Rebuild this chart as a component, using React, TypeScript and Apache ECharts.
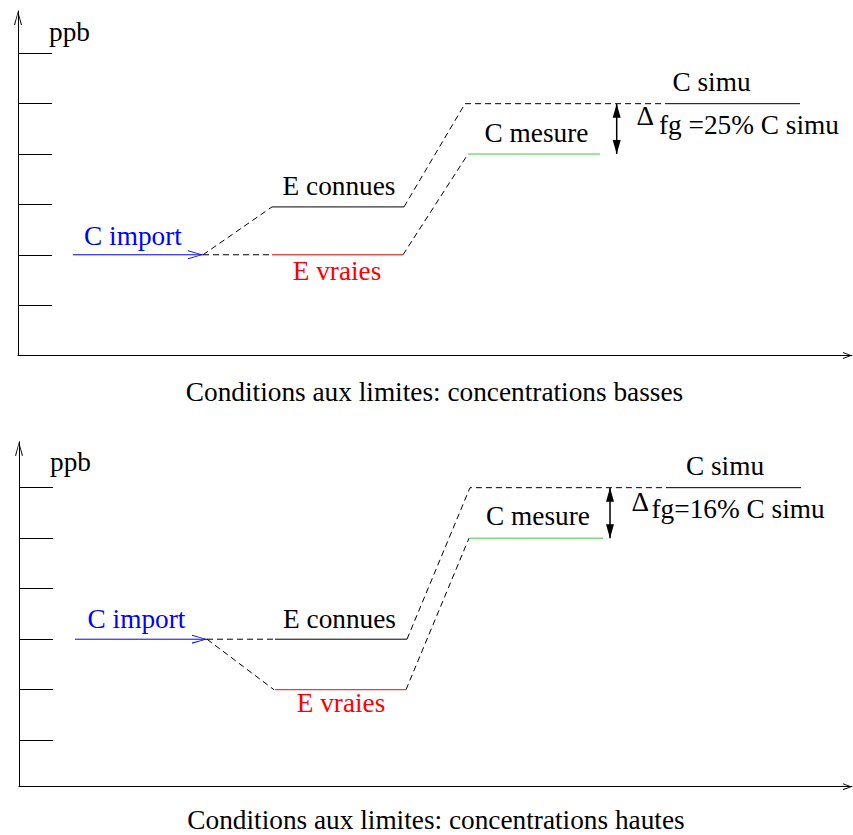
import React, { useEffect, useRef } from "react";
import * as echarts from "echarts";

type Pt = [number, number];

// ---------- Top panel: low boundary concentrations (x in px units from the y axis, y in ppb steps) ----------
const topCImport: Pt[] = [[55, 2], [185, 2]];
const topEConnues: Pt[] = [[254, 2.95], [386, 2.95]];
const topEVraies: Pt[] = [[254, 2], [385, 2]];
const topCMesure: Pt[] = [[450, 4], [582, 4]];
const topCSimu: Pt[] = [[650, 5], [782, 5]];
const topDashed: Pt[][] = [
  [[185, 2], [254, 2.95]],
  [[185, 2], [254, 2]],
  [[386, 2.95], [447, 5], [650, 5]],
  [[385, 2], [450, 4]],
];
const topDeltaX = 598.7;
const topTicks = [1, 2, 3, 4, 5, 6];

// ---------- Bottom panel: high boundary concentrations ----------
const botCImport: Pt[] = [[56, 2], [188, 2]];
const botEConnues: Pt[] = [[256, 2], [388, 2]];
const botEVraies: Pt[] = [[256, 1], [387, 1]];
const botCMesure: Pt[] = [[451, 4], [584, 4]];
const botCSimu: Pt[] = [[649, 5], [782, 5]];
const botDashed: Pt[][] = [
  [[188, 2], [256, 2]],
  [[188, 2], [255, 1]],
  [[388, 2], [451, 5], [649, 5]],
  [[387, 1], [450, 4]],
];
const botDeltaX = 591;
const botTicks = [0, 1, 2, 3, 4, 5];

// ---------- Texts ----------
const unitLabel = "ppb";
const lblImport = "C import";
const lblConnues = "E connues";
const lblVraies = "E vraies";
const lblMesure = "C mesure";
const lblSimu = "C simu";
const deltaSym = "\u0394";
const deltaTop = "fg =25% C simu";
const deltaBot = "fg=16% C simu";
const captionTop = "Conditions aux limites: concentrations basses";
const captionBot = "Conditions aux limites: concentrations hautes";

const FONT = "Liberation Serif";
const FS = 27.3;
const BLUE = "#0000ff";
const RED = "#ff0000";
const GREEN = "#3ccc3c";
const BLACK = "#000000";

const chevron = (w: number, h: number) => {
  const t = 1.1;
  return `path://M${w / 2},0 L${w},${h} L${w - t},${h} L${w / 2},${2.2} L${t},${h} L0,${h} Z`;
};

function solid(data: Pt[], color: string, g: number) {
  return {
    type: "line",
    xAxisIndex: g,
    yAxisIndex: g,
    data,
    symbol: "none",
    silent: true,
    lineStyle: { color, width: 1 },
    z: 3,
  };
}

function dashed(data: Pt[], g: number) {
  return {
    type: "line",
    xAxisIndex: g,
    yAxisIndex: g,
    data,
    symbol: "none",
    silent: true,
    lineStyle: { color: BLACK, width: 1, type: [6, 4] },
    z: 2,
  };
}

function importArrow(data: Pt[], g: number) {
  return {
    type: "line",
    xAxisIndex: g,
    yAxisIndex: g,
    silent: true,
    symbol: "none",
    lineStyle: { color: BLUE, width: 1 },
    itemStyle: { color: BLUE, borderWidth: 0 },
    data: data.map((p, i) =>
      i === data.length - 1
        ? {
            value: p,
            symbol: chevron(9, 15),
            symbolSize: [9, 15],
            symbolRotate: -90,
            symbolOffset: [-7.5, 0],
          }
        : { value: p, symbol: "none" }
    ),
    z: 3,
  };
}

function deltaArrow(x: number, yTop: number, yBot: number, g: number) {
  return {
    type: "line",
    xAxisIndex: g,
    yAxisIndex: g,
    silent: true,
    lineStyle: { color: BLACK, width: 1.5 },
    itemStyle: { color: BLACK, borderWidth: 0 },
    data: [
      { value: [x, yTop], symbol: "triangle", symbolSize: [8, 14], symbolOffset: [0, 7] },
      { value: [x, yBot], symbol: "triangle", symbolSize: [8, 14], symbolRotate: 180, symbolOffset: [0, -7] },
    ],
    z: 4,
  };
}

function text(t: string, x: number, baseline: number, align: string, color = BLACK, size = FS) {
  return {
    type: "text",
    x,
    y: baseline - 0.34 * size,
    silent: true,
    style: {
      text: t,
      fill: color,
      fontSize: size,
      fontFamily: FONT,
      align,
      verticalAlign: "middle",
      textAlign: align,
      textVerticalAlign: "middle",
    },
  };
}

function axes(ticks: number[], min: number, max: number, xMax: number) {
  const line = { color: BLACK, width: 1 };
  const xAxis = {
    type: "value",
    min: 0,
    max: xMax,
    axisLine: {
      show: true,
      onZero: false,
      lineStyle: line,
      symbol: ["none", chevron(7, 9)],
      symbolSize: [7, 9],
      symbolOffset: [0, -4.5],
    },
    axisTick: { show: false },
    axisLabel: { show: false },
    splitLine: { show: false },
  };
  const yAxis = {
    type: "value",
    min,
    max,
    axisLine: {
      show: true,
      onZero: false,
      lineStyle: line,
      symbol: ["none", chevron(8, 14)],
      symbolSize: [8, 14],
      symbolOffset: [0, -7],
    },
    axisTick: {
      show: true,
      inside: true,
      length: 34,
      customValues: ticks,
      lineStyle: line,
    },
    axisLabel: { show: false, customValues: ticks },
    splitLine: { show: false },
  };
  return { xAxis, yAxis };
}

export default function App() {
  const ref = useRef<HTMLDivElement>(null);

  useEffect(() => {
    if (!ref.current) return;
    document.body.style.margin = "0";
    const chart = echarts.init(ref.current, undefined, { renderer: "svg" });
    const a0 = axes(topTicks, 0, 6.84, 834);
    const a1 = axes(botTicks, -0.92, 5.91, 833);

    const series: any[] = [];
    topDashed.forEach((d) => series.push(dashed(d, 0)));
    series.push(importArrow(topCImport, 0));
    series.push(solid(topEConnues, BLACK, 0));
    series.push(solid(topEVraies, RED, 0));
    series.push(solid(topCMesure, GREEN, 0));
    series.push(solid(topCSimu, BLACK, 0));
    series.push(deltaArrow(topDeltaX, topCSimu[0][1], topCMesure[0][1], 0));

    botDashed.forEach((d) => series.push(dashed(d, 1)));
    series.push(importArrow(botCImport, 1));
    series.push(solid(botEConnues, BLACK, 1));
    series.push(solid(botEVraies, RED, 1));
    series.push(solid(botCMesure, GREEN, 1));
    series.push(solid(botCSimu, BLACK, 1));
    series.push(deltaArrow(botDeltaX, botCSimu[0][1], botCMesure[0][1], 1));

    const graphic = [
      text(unitLabel, 49, 41, "left"),
      text(lblImport, 133, 245, "center", BLUE),
      text(lblConnues, 339, 195, "center"),
      text(lblVraies, 337, 280, "center", RED),
      text(lblMesure, 536.5, 142, "center"),
      text(lblSimu, 711.5, 91, "center"),
      text(deltaSym, 636.5, 125, "left"),
      text(deltaTop, 659, 134, "left"),
      text(captionTop, 434.5, 401, "center"),

      text(unitLabel, 50, 471, "left"),
      text(lblImport, 136.5, 628, "center", BLUE),
      text(lblConnues, 339.5, 628, "center"),
      text(lblVraies, 341, 712, "center", RED),
      text(lblMesure, 538, 525, "center"),
      text(lblSimu, 725, 475, "center"),
      text(deltaSym, 631.5, 511, "left"),
      text(deltaBot, 651.5, 518, "left"),
      text(captionBot, 436, 829.5, "center"),
    ];

    chart.setOption({
      animation: false,
      tooltip: { show: false },
      grid: [
        { left: 18, right: 1, top: 11, bottom: 479.5 },
        { left: 19, right: 1, top: 441.7, bottom: 48.3 },
      ],
      xAxis: [{ ...a0.xAxis, gridIndex: 0 }, { ...a1.xAxis, gridIndex: 1 }],
      yAxis: [{ ...a0.yAxis, gridIndex: 0 }, { ...a1.yAxis, gridIndex: 1 }],
      series,
      graphic,
    });
    return () => chart.dispose();
  }, []);

  return <div ref={ref} style={{ width: 853, height: 835, background: "#fff" }} />;
}
